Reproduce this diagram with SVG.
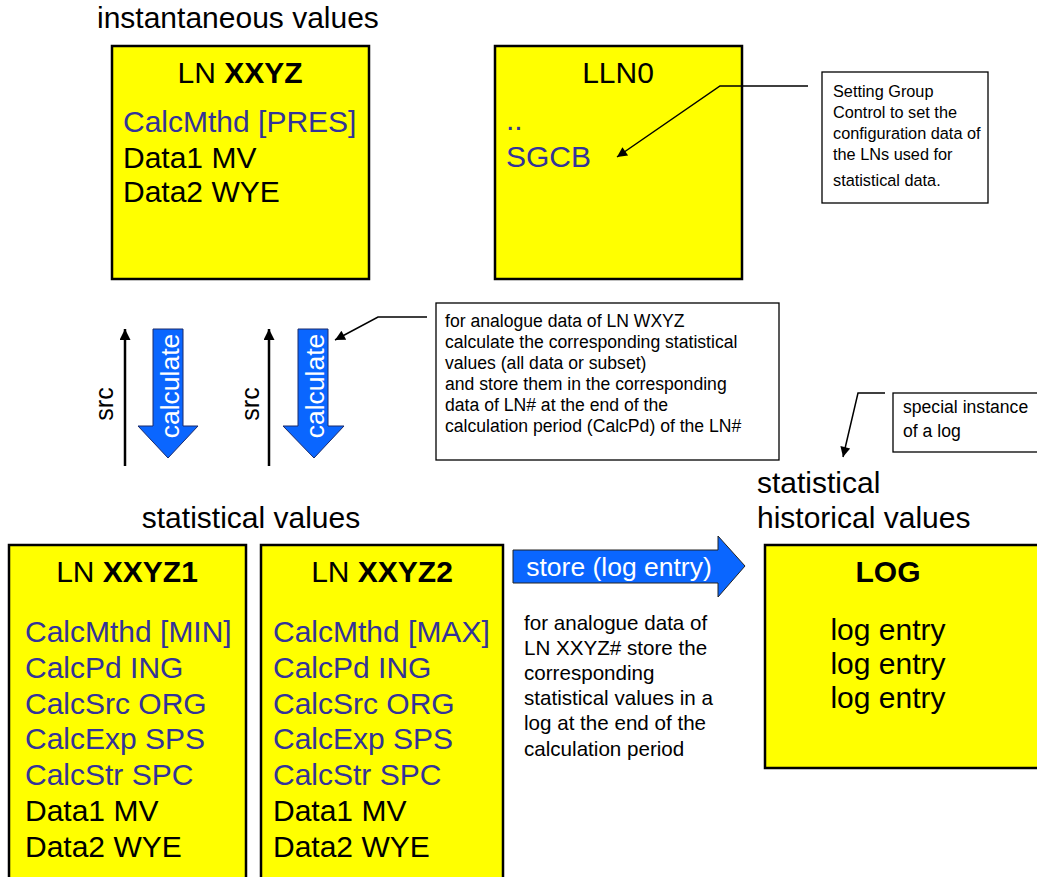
<svg xmlns="http://www.w3.org/2000/svg" width="1037" height="877" viewBox="0 0 1037 877">
<defs>
<style>
text{font-family:"Liberation Sans",Arial,Helvetica,sans-serif}
.box{fill:#ffff00;stroke:#000;stroke-width:2.5}
.cbox{fill:#fff;stroke:#000;stroke-width:1.3}
.big{font-size:30px;fill:#000}
.blue{fill:#333399}
.b{font-weight:bold}
.small{font-size:16.3px;fill:#000}
.mid{font-size:17.6px;fill:#000}
.desc{font-size:20.6px;fill:#000}
.wt{fill:#fff;font-size:26.5px}
.barrow{fill:#0a66ff;stroke:#1a2a6a;stroke-width:1}
.line{stroke:#000;stroke-width:1.5;fill:none}
.src{stroke:#000;stroke-width:2.5;fill:none}
</style>
<marker id="ah" viewBox="0 0 10 10" refX="10" refY="5" markerWidth="16" markerHeight="10" markerUnits="userSpaceOnUse" orient="auto">
<path d="M0,0 L10,5 L0,10 z" fill="#000"/>
</marker>
<marker id="ahs" viewBox="0 0 10 10" refX="10" refY="5" markerWidth="16" markerHeight="11" markerUnits="userSpaceOnUse" orient="auto">
<path d="M0,0 L10,5 L0,10 z" fill="#000"/>
</marker>
</defs>

<g id="headings">
<text class="big" x="97" y="28">instantaneous values</text>
<text class="big" x="251" y="528" text-anchor="middle">statistical values</text>
<text class="big" x="757" y="493">statistical</text>
<text class="big" x="757" y="528">historical values</text>
</g>

<g id="ln-xxyz">
<rect class="box" x="112" y="46" width="257" height="233"/>
<text class="big" x="240" y="83" text-anchor="middle">LN <tspan class="b">XXYZ</tspan></text>
<text class="big blue" x="123" y="132">CalcMthd [PRES]</text>
<text class="big" x="123" y="168">Data1 MV</text>
<text class="big" x="123" y="202">Data2 WYE</text>
</g>

<g id="lln0">
<rect class="box" x="495" y="46" width="247" height="233"/>
<text class="big" x="618" y="83" text-anchor="middle">LLN0</text>
<text class="big blue" x="506" y="130">..</text>
<text class="big blue" x="506" y="167">SGCB</text>
</g>

<g id="note-sgcb">
<rect class="cbox" x="822" y="72" width="166" height="131"/>
<text class="small" x="833" y="97">Setting Group</text>
<text class="small" x="833" y="118">Control to set the</text>
<text class="small" x="833" y="139">configuration data of</text>
<text class="small" x="833" y="160">the LNs used for</text>
<text class="small" x="833" y="186">statistical data.</text>
</g>

<g id="calc1">
<polygon class="barrow" points="153,329 183,329 183,426 198,426 168,458 138,426 153,426"/>
<text class="wt" transform="translate(179,386) rotate(-90)" text-anchor="middle">calculate</text>
</g>
<g id="src1">
<text class="big" style="font-size:25px" transform="translate(113,404) rotate(-90)" text-anchor="middle">src</text>
</g>
<g id="calc2">
<polygon class="barrow" points="298,329 328,329 328,426 344,426 314,458 283,426 298,426"/>
<text class="wt" transform="translate(324,386) rotate(-90)" text-anchor="middle">calculate</text>
</g>
<g id="src2">
<text class="big" style="font-size:25px" transform="translate(259,404) rotate(-90)" text-anchor="middle">src</text>
</g>

<g id="note-calc">
<rect class="cbox" x="436" y="303" width="343" height="157"/>
<text class="mid" x="445" y="327">for analogue data of LN WXYZ</text>
<text class="mid" x="445" y="348">calculate the corresponding statistical</text>
<text class="mid" x="445" y="369">values (all data or subset)</text>
<text class="mid" x="445" y="390">and store them in the corresponding</text>
<text class="mid" x="445" y="411">data of LN# at the end of the</text>
<text class="mid" x="445" y="432">calculation period (CalcPd) of the LN#</text>
</g>

<g id="note-log">
<rect class="cbox" x="893" y="393" width="150" height="59"/>
<text class="mid" x="903" y="413">special instance</text>
<text class="mid" x="903" y="437">of a log</text>
</g>

<g id="ln-xxyz1">
<rect class="box" x="9" y="545" width="237" height="340"/>
<text class="big" x="127" y="582" text-anchor="middle">LN <tspan class="b">XXYZ1</tspan></text>
<text class="big blue" x="25" y="642">CalcMthd [MIN]</text>
<text class="big blue" x="25" y="678">CalcPd ING</text>
<text class="big blue" x="25" y="714">CalcSrc ORG</text>
<text class="big blue" x="25" y="749">CalcExp SPS</text>
<text class="big blue" x="25" y="785">CalcStr SPC</text>
<text class="big" x="25" y="821">Data1 MV</text>
<text class="big" x="25" y="857">Data2 WYE</text>
</g>

<g id="ln-xxyz2">
<rect class="box" x="261" y="545" width="242" height="340"/>
<text class="big" x="382" y="582" text-anchor="middle">LN <tspan class="b">XXYZ2</tspan></text>
<text class="big blue" x="273" y="642">CalcMthd [MAX]</text>
<text class="big blue" x="273" y="678">CalcPd ING</text>
<text class="big blue" x="273" y="714">CalcSrc ORG</text>
<text class="big blue" x="273" y="749">CalcExp SPS</text>
<text class="big blue" x="273" y="785">CalcStr SPC</text>
<text class="big" x="273" y="821">Data1 MV</text>
<text class="big" x="273" y="857">Data2 WYE</text>
</g>

<g id="store">
<polygon class="barrow" style="stroke:#222" points="513,550 718,550 718,536 745,566 718,597 718,583 513,583"/>
<text class="wt" x="619" y="576" text-anchor="middle">store (log entry)</text>
</g>

<g id="store-desc">
<text class="desc" x="524" y="630">for analogue data of</text>
<text class="desc" x="524" y="655">LN XXYZ# store the</text>
<text class="desc" x="524" y="680">corresponding</text>
<text class="desc" x="524" y="705">statistical values in a</text>
<text class="desc" x="524" y="730">log at the end of the</text>
<text class="desc" x="524" y="756">calculation period</text>
</g>

<g id="log">
<rect class="box" x="765" y="545" width="280" height="223"/>
<text class="big b" x="888" y="582" text-anchor="middle">LOG</text>
<text class="big" x="888" y="640" text-anchor="middle">log entry</text>
<text class="big" x="888" y="674" text-anchor="middle">log entry</text>
<text class="big" x="888" y="708" text-anchor="middle">log entry</text>
</g>

<g id="connectors">
<line class="src" x1="125" y1="466" x2="125" y2="329" marker-end="url(#ahs)"/>
<line class="src" x1="269" y1="466" x2="269" y2="329" marker-end="url(#ahs)"/>
<polyline class="line" points="808,86 720,86 617,157" marker-end="url(#ah)"/>
<polyline class="line" points="427,317 378,317 335,340" marker-end="url(#ah)"/>
<polyline class="line" points="885,393 858,393 843,457" marker-end="url(#ah)"/>
</g>
</svg>
